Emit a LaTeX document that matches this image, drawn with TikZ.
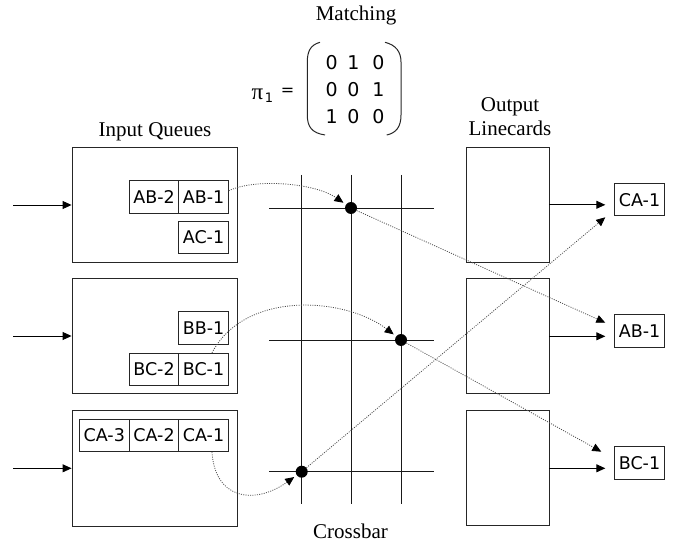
\documentclass[tikz,border=0pt]{standalone}
\usepackage{fontspec}
\setmainfont{Liberation Serif}
\newfontfamily\sansf{DejaVu Sans}
\usetikzlibrary{arrows.meta,calc}
\begin{document}
\begin{tikzpicture}[x=1pt,y=-1pt,
  box/.style={draw=black!85,line width=0.9pt,inner sep=0},
  qbox/.style={box,minimum width=165pt,minimum height=115.5pt},
  obox/.style={box,minimum width=82.3pt,minimum height=115pt},
  cell/.style={draw=black!85,line width=0.9pt,minimum width=49.5pt,minimum height=32.5pt,inner sep=0,font=\sansf\fontsize{17.5}{20}\selectfont},
  bar/.style={line width=0.95pt,black!90},
  dot/.style={circle,fill=black,minimum size=12pt,inner sep=0},
  tip/.style={line width=0.9pt,-{Triangle[length=9pt,width=8pt]}},
  flow/.style={draw=black!70,line width=0.8pt,dash pattern=on 1pt off 1.3pt,-{Triangle[length=9pt,width=8pt,color=black]}},
  lbl/.style={font=\fontsize{21}{24}\selectfont,anchor=base,inner sep=0},
  num/.style={font=\sansf\fontsize{19}{20}\selectfont,anchor=base,inner sep=0},
  paren/.style={line width=1pt,black!85}]
\useasboundingbox (0,0) rectangle (688,548);

% labels
\node[lbl] (mt) at (356,20.7) {Matching};
\node[lbl] (iq) at (155,136.7) {Input Queues};
\node[lbl] (ol1) at (510,112) {Output};
\node[lbl] (ol2) at (510,136) {Linecards};
\node[lbl] (cb) at (350.5,538) {Crossbar};

% matrix
\node[font=\fontsize{23}{24}\selectfont,anchor=base,inner sep=0] (pi) at (257.5,100) {π};
\node[font=\sansf\fontsize{13}{14}\selectfont,anchor=base,inner sep=0] (pisub) at (269,102.5) {1};
\node[font=\sansf\fontsize{16}{16}\selectfont,anchor=base,inner sep=0] (eq) at (287.5,96) {=};
\node[num] (m11) at (331.7,70) {0};
\node[num] (m12) at (353.3,70) {1};
\node[num] (m13) at (378.3,70) {0};
\node[num] (m21) at (331.7,96.6) {0};
\node[num] (m22) at (353.3,96.6) {0};
\node[num] (m23) at (378.3,96.6) {1};
\node[num] (m31) at (331.7,123.3) {1};
\node[num] (m32) at (353.3,123.3) {0};
\node[num] (m33) at (378.3,123.3) {0};
\draw[paren] (320,42.3) .. controls (310,45) and (307.3,52) .. (307.3,62) -- (307.3,115) .. controls (307.3,127) and (312,133) .. (325,135);
\draw[paren] (385,42.3) .. controls (396,45) and (401,52) .. (401,62) -- (401,115) .. controls (401,127) and (396,133) .. (386.7,135);

% input queues
\node[qbox] (ib1) at (154.5,205) {};
\node[qbox] (ib2) at (154.5,336) {};
\node[qbox] (ib3) at (154.5,468.3) {};
\coordinate (in1) at (13,205);
\coordinate (in2) at (13,336);
\coordinate (in3) at (13,468.3);
\draw[tip] (in1) -- (ib1.west);
\draw[tip] (in2) -- (ib2.west);
\draw[tip] (in3) -- (ib3.west);

\node[cell] (AB2) at (154,196.8) {AB-2};
\node[cell] (AB1) at (203.5,196.8) {AB-1};
\node[cell] (AC1) at (203.5,237.5) {AC-1};
\node[cell] (BB1) at (203.5,327.8) {BB-1};
\node[cell] (BC2) at (154,369.5) {BC-2};
\node[cell] (BC1) at (203.5,369.5) {BC-1};
\node[cell] (CA3) at (104.3,435.3) {CA-3};
\node[cell] (CA2) at (154,435.3) {CA-2};
\node[cell] (CA1) at (203.5,435.3) {CA-1};

% output linecards
\node[obox] (ob1) at (507.8,204.8) {};
\node[obox] (ob2) at (507.8,336.3) {};
\node[obox] (ob3) at (507.8,468.3) {};
\node[cell] (oCA) at (639.5,199.7) {CA-1};
\node[cell] (oAB) at (639.5,331) {AB-1};
\node[cell] (oBC) at (639.5,463) {BC-1};
\draw[tip] (ob1.east) -- ($(ob1.east -| oCA.west)+(-9,0)$);
\draw[tip] (ob2.east) -- ($(ob2.east -| oAB.west)+(-9,0)$);
\draw[tip] (ob3.east) -- ($(ob3.east -| oBC.west)+(-9,0)$);

% crossbar
\coordinate (v1t) at (301.7,175); \coordinate (v1b) at (301.7,504);
\coordinate (v2t) at (351,175);   \coordinate (v2b) at (351,504);
\coordinate (v3t) at (401,175);   \coordinate (v3b) at (401,504);
\coordinate (h1l) at (269,208);   \coordinate (h1r) at (434,208);
\coordinate (h2l) at (269,340);   \coordinate (h2r) at (434,340);
\coordinate (h3l) at (269,471.7); \coordinate (h3r) at (434,471.7);
\draw[bar] (v1t) -- (v1b);
\draw[bar] (v2t) -- (v2b);
\draw[bar] (v3t) -- (v3b);
\draw[bar] (h1l) -- (h1r);
\draw[bar] (h2l) -- (h2r);
\draw[bar] (h3l) -- (h3r);
\node[dot] (d1) at (351,208) {};
\node[dot] (d2) at (401,340) {};
\node[dot] (d3) at (301.7,471.7) {};

% flows
\draw[flow,shorten >=3pt] ($(AB1.east)+(0,-6)$) .. controls (255,178) and (315,183) .. (d1);
\draw[flow] (d1) -- ($(oAB.west)+(-9,-8.3)$);
\draw[flow,shorten >=3pt] ($(BC1.north)+(8.5,0)$) .. controls (245,290) and (345,297) .. (d2);
\draw[flow] (d2) -- ($(oBC.west)+(-13,-11.3)$);
\draw[flow,shorten >=3pt] ($(CA1.south)+(8.5,0)$) .. controls (215,500) and (255,505) .. (d3);
\draw[flow] (d3) -- ($(oCA.west)+(-9,17.6)$);
\end{tikzpicture}
\end{document}
